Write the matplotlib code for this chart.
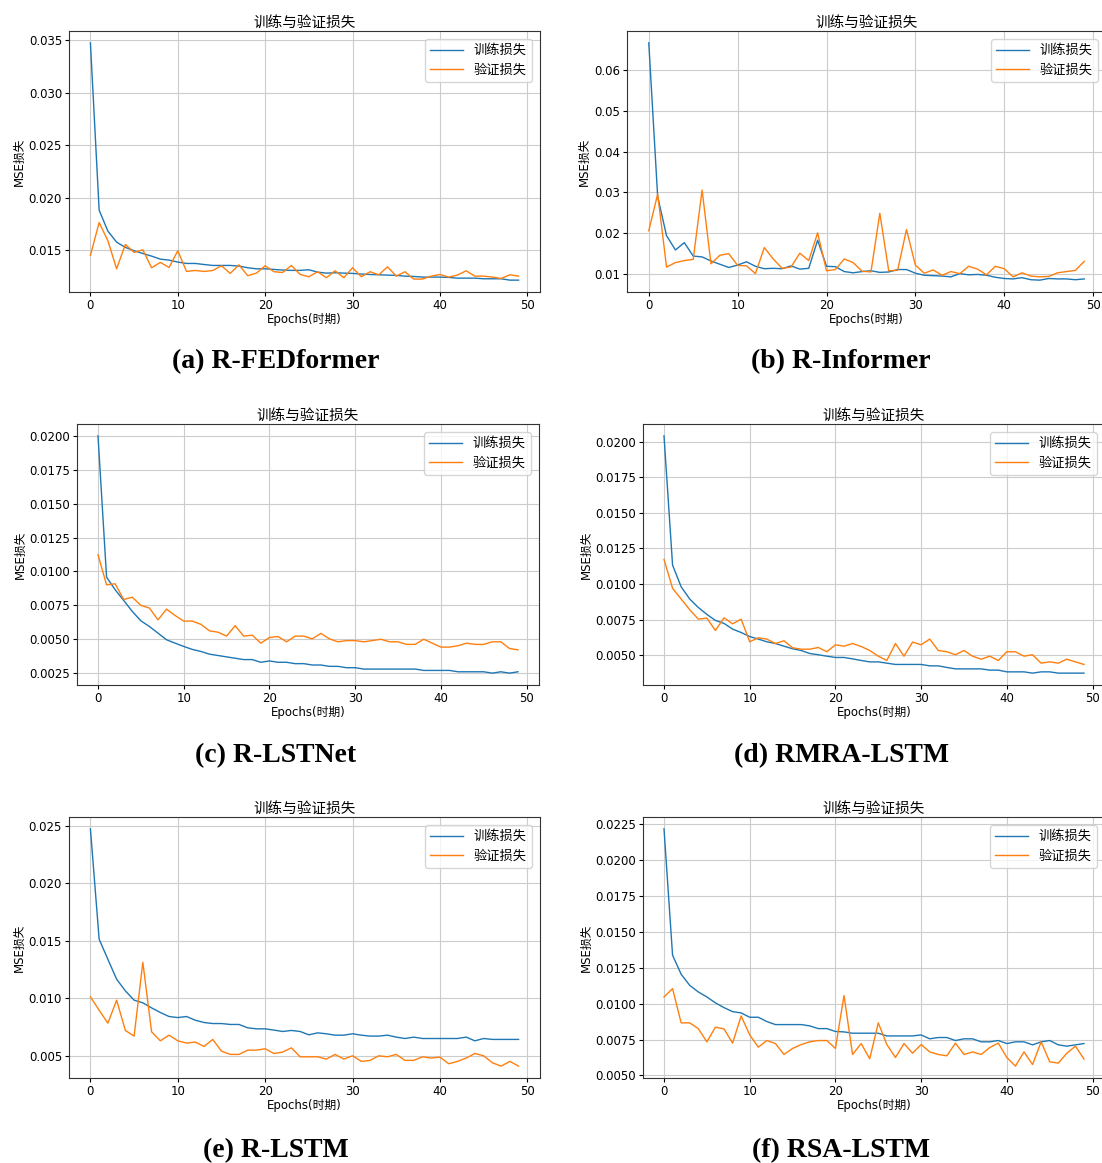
import matplotlib
matplotlib.use("Agg")
import matplotlib.pyplot as plt

plt.rcParams['font.family'] = ['DejaVu Sans', 'Noto Sans CJK SC']
plt.rcParams['axes.unicode_minus'] = False

epochs = list(range(50))

# (a) R-FEDformer
fed_train = [0.03475, 0.01881, 0.01681, 0.01576, 0.01526, 0.01494, 0.01468, 0.01443, 0.01414, 0.01405,
             0.01386, 0.01373, 0.01373, 0.01363, 0.01354, 0.01354, 0.01354, 0.01348, 0.01332, 0.01322,
             0.01322, 0.01316, 0.01310, 0.01307, 0.01307, 0.01313, 0.01290, 0.01281, 0.01284, 0.01281,
             0.01278, 0.01272, 0.01268, 0.01265, 0.01262, 0.01259, 0.01252, 0.01249, 0.01243, 0.01243,
             0.01243, 0.01240, 0.01233, 0.01233, 0.01233, 0.01227, 0.01227, 0.01227, 0.01214, 0.01214]
fed_val = [0.01449, 0.01763, 0.01589, 0.01322, 0.01554, 0.01478, 0.01503, 0.01332, 0.01383, 0.01335,
           0.01494, 0.01297, 0.01306, 0.01297, 0.01306, 0.01351, 0.01278, 0.01360, 0.01256, 0.01281,
           0.01351, 0.01294, 0.01287, 0.01354, 0.01268, 0.01246, 0.01294, 0.01237, 0.01303, 0.01237,
           0.01332, 0.01246, 0.01294, 0.01265, 0.01341, 0.01252, 0.01294, 0.01224, 0.01224, 0.01252,
           0.01268, 0.01243, 0.01262, 0.01303, 0.01252, 0.01252, 0.01243, 0.01230, 0.01265, 0.01252]

# (b) R-Informer
inf_train = [0.0667, 0.0290, 0.0194, 0.0159, 0.0177, 0.0144, 0.0142, 0.0132, 0.0124, 0.0116,
             0.0122, 0.0130, 0.0119, 0.0113, 0.0114, 0.0113, 0.0120, 0.0112, 0.0114, 0.0183,
             0.0119, 0.0118, 0.0106, 0.0103, 0.0106, 0.0108, 0.0104, 0.0105, 0.0111, 0.0111,
             0.0102, 0.0097, 0.0096, 0.0095, 0.0093, 0.0101, 0.0098, 0.0099, 0.0097, 0.0092,
             0.0089, 0.0088, 0.0091, 0.0086, 0.0085, 0.0089, 0.0088, 0.0088, 0.0086, 0.0088]
inf_val = [0.0206, 0.0296, 0.0117, 0.0128, 0.0133, 0.0136, 0.0306, 0.0125, 0.0146, 0.0150,
           0.0121, 0.0120, 0.0101, 0.0165, 0.0137, 0.0114, 0.0117, 0.0151, 0.0133, 0.0201,
           0.0108, 0.0111, 0.0137, 0.0128, 0.0107, 0.0105, 0.0249, 0.0108, 0.0109, 0.0209,
           0.0122, 0.0102, 0.0110, 0.0097, 0.0106, 0.0101, 0.0119, 0.0112, 0.0098, 0.0119,
           0.0113, 0.0093, 0.0103, 0.0095, 0.0093, 0.0094, 0.0103, 0.0106, 0.0109, 0.0131]

# (c) R-LSTNet
lst_train = [0.0200, 0.00958, 0.00865, 0.00786, 0.00705, 0.00636, 0.00594, 0.00545, 0.00496, 0.00471,
             0.00447, 0.00425, 0.00410, 0.00390, 0.00380, 0.00370, 0.00360, 0.00350, 0.00350, 0.00330,
             0.00340, 0.00330, 0.00330, 0.00320, 0.00320, 0.00310, 0.00310, 0.00300, 0.00300, 0.00290,
             0.00290, 0.00280, 0.00280, 0.00280, 0.00280, 0.00280, 0.00280, 0.00280, 0.00270, 0.00270,
             0.00270, 0.00270, 0.00260, 0.00260, 0.00260, 0.00260, 0.00250, 0.00260, 0.00250, 0.00260]
lst_val = [0.01123, 0.00901, 0.00909, 0.00793, 0.00810, 0.00750, 0.00730, 0.00643, 0.00722, 0.00675,
           0.00634, 0.00634, 0.00610, 0.00562, 0.00552, 0.00523, 0.00600, 0.00523, 0.00530, 0.00471,
           0.00513, 0.00520, 0.00481, 0.00523, 0.00523, 0.00503, 0.00543, 0.00503, 0.00481, 0.00490,
           0.00490, 0.00481, 0.00490, 0.00500, 0.00481, 0.00481, 0.00462, 0.00462, 0.00500, 0.00471,
           0.00442, 0.00442, 0.00452, 0.00471, 0.00462, 0.00462, 0.00481, 0.00481, 0.00432, 0.00422]

# (d) RMRA-LSTM
rmra_train = [0.0204, 0.01133, 0.00981, 0.00895, 0.00836, 0.00787, 0.00745, 0.00724, 0.00684, 0.00660,
              0.00632, 0.00614, 0.00595, 0.00583, 0.00564, 0.00546, 0.00534, 0.00513, 0.00504, 0.00494,
              0.00485, 0.00485, 0.00475, 0.00464, 0.00454, 0.00454, 0.00445, 0.00436, 0.00436, 0.00436,
              0.00436, 0.00426, 0.00426, 0.00415, 0.00405, 0.00405, 0.00405, 0.00405, 0.00396, 0.00396,
              0.00384, 0.00384, 0.00384, 0.00375, 0.00384, 0.00384, 0.00375, 0.00375, 0.00375, 0.00375]
rmra_val = [0.01173, 0.00970, 0.00895, 0.00820, 0.00754, 0.00761, 0.00674, 0.00763, 0.00721, 0.00754,
            0.00595, 0.00623, 0.00614, 0.00583, 0.00602, 0.00553, 0.00543, 0.00543, 0.00555, 0.00525,
            0.00574, 0.00564, 0.00583, 0.00562, 0.00534, 0.00494, 0.00464, 0.00583, 0.00494, 0.00593,
            0.00574, 0.00614, 0.00534, 0.00525, 0.00504, 0.00534, 0.00494, 0.00473, 0.00494, 0.00464,
            0.00525, 0.00525, 0.00494, 0.00504, 0.00445, 0.00454, 0.00445, 0.00473, 0.00454, 0.00436]

# (e) R-LSTM
rl_train = [0.02471, 0.01512, 0.01338, 0.01165, 0.01064, 0.00983, 0.00960, 0.00916, 0.00876, 0.00841,
            0.00832, 0.00841, 0.00809, 0.00789, 0.00780, 0.00780, 0.00772, 0.00772, 0.00743, 0.00734,
            0.00734, 0.00723, 0.00711, 0.00720, 0.00711, 0.00682, 0.00699, 0.00691, 0.00679, 0.00679,
            0.00691, 0.00679, 0.00671, 0.00671, 0.00679, 0.00662, 0.00650, 0.00662, 0.00650, 0.00650,
            0.00650, 0.00650, 0.00650, 0.00662, 0.00630, 0.00650, 0.00642, 0.00642, 0.00642, 0.00642]
rl_val = [0.01012, 0.00896, 0.00783, 0.00983, 0.00720, 0.00671, 0.01312, 0.00708, 0.00630, 0.00679,
          0.00630, 0.00610, 0.00619, 0.00581, 0.00642, 0.00540, 0.00512, 0.00512, 0.00549, 0.00549,
          0.00561, 0.00520, 0.00532, 0.00569, 0.00491, 0.00491, 0.00491, 0.00471, 0.00512, 0.00471,
          0.00500, 0.00451, 0.00460, 0.00500, 0.00491, 0.00512, 0.00460, 0.00460, 0.00491, 0.00480,
          0.00488, 0.00431, 0.00451, 0.00480, 0.00520, 0.00500, 0.00439, 0.00410, 0.00451, 0.00410]

# (f) RSA-LSTM
rsa_train = [0.02215, 0.01336, 0.01204, 0.01127, 0.01081, 0.01046, 0.01005, 0.00972, 0.00944, 0.00935,
             0.00905, 0.00905, 0.00875, 0.00854, 0.00854, 0.00854, 0.00854, 0.00845, 0.00826, 0.00826,
             0.00806, 0.00803, 0.00794, 0.00794, 0.00794, 0.00794, 0.00775, 0.00775, 0.00775, 0.00775,
             0.00782, 0.00755, 0.00764, 0.00764, 0.00743, 0.00755, 0.00755, 0.00734, 0.00734, 0.00743,
             0.00722, 0.00734, 0.00734, 0.00713, 0.00734, 0.00743, 0.00713, 0.00704, 0.00713, 0.00722]
rsa_val = [0.01046, 0.01104, 0.00866, 0.00866, 0.00826, 0.00734, 0.00836, 0.00824, 0.00725, 0.00914,
           0.00782, 0.00697, 0.00743, 0.00722, 0.00646, 0.00688, 0.00715, 0.00734, 0.00743, 0.00743,
           0.00688, 0.01056, 0.00646, 0.00722, 0.00616, 0.00866, 0.00715, 0.00625, 0.00722, 0.00655,
           0.00715, 0.00664, 0.00646, 0.00637, 0.00725, 0.00646, 0.00664, 0.00646, 0.00694, 0.00725,
           0.00625, 0.00565, 0.00664, 0.00576, 0.00734, 0.00595, 0.00586, 0.00655, 0.00704, 0.00614]

captions = ['(a) R-FEDformer', '(b) R-Informer', '(c) R-LSTNet',
            '(d) RMRA-LSTM', '(e) R-LSTM', '(f) RSA-LSTM']
series = [(fed_train, fed_val), (inf_train, inf_val), (lst_train, lst_val),
          (rmra_train, rmra_val), (rl_train, rl_val), (rsa_train, rsa_val)]

W, H = 1102, 1163
fig = plt.figure(figsize=(W / 100, H / 100), dpi=100)

# axes boxes in pixels: left, top, right, bottom
boxes = [(69, 31, 540, 292), (627, 31, 1106, 292),
         (77, 424, 539, 685), (643, 424, 1105, 685),
         (69, 817, 540, 1078), (643, 817, 1105, 1078)]
caption_y = [362, 362, 756, 756, 1151, 1151]
caption_x = [276, 841, 276, 841, 276, 841]

for i, (tr, va) in enumerate(series):
    l, t, r, b = boxes[i]
    ax = fig.add_axes([l / W, 1 - b / H, (r - l) / W, (b - t) / H])
    ax.plot(epochs, tr, color='#1f77b4', lw=1.0, label='训练损失')
    ax.plot(epochs, va, color='#ff7f0e', lw=1.0, label='验证损失')
    ax.set_title('训练与验证损失', fontsize=10.5, pad=3)
    ax.set_xlabel('Epochs(时期)', fontsize=8.5, labelpad=1)
    ax.set_ylabel('MSE损失', fontsize=8.5, labelpad=2)
    ax.tick_params(labelsize=8.5, length=3, pad=2)
    ax.set_xticks([0, 10, 20, 30, 40, 50])
    ax.grid(True, color='#cccccc', lw=0.8)
    for s in ax.spines.values():
        s.set_linewidth(0.8)
        s.set_color('#333333')
    ax.legend(loc='upper right', fontsize=9.5, handlelength=2.5, borderaxespad=0.6)
    fig.text(caption_x[i] / W, 1 - caption_y[i] / H, captions[i], ha='center', va='center',
             fontsize=20, fontweight='bold', family='Liberation Serif')

fig.savefig('out.png', dpi=100)
